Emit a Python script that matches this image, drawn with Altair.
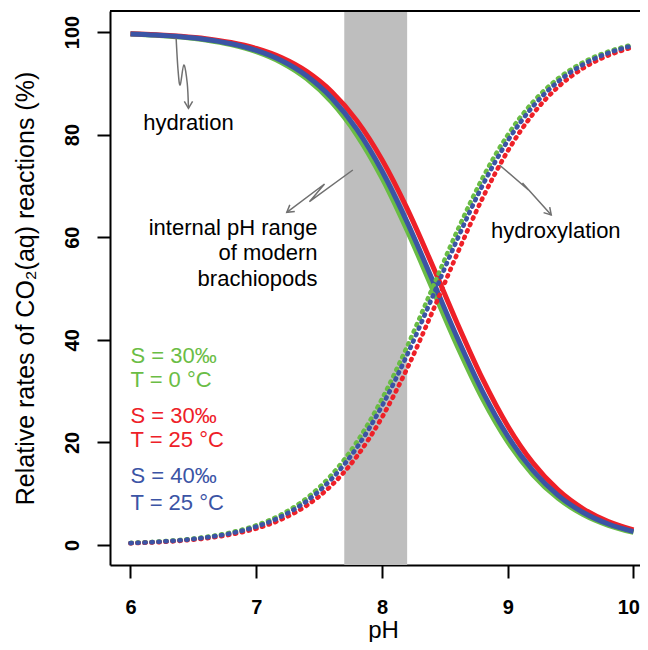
import altair as alt
import pandas as pd

# ---------------- data ----------------
ph = [6.0, 6.2, 6.4, 6.6, 6.8, 7.0, 7.2, 7.4, 7.6, 7.8, 8.0,
      8.2, 8.4, 8.6, 8.8, 9.0, 9.2, 9.4, 9.6, 9.8, 10.0]

series = ["S = 30‰, T = 0 °C", "S = 30‰, T = 25 °C", "S = 40‰, T = 25 °C"]
series_colors = ["#6ABD45", "#EE2028", "#3B54A5"]

hydration_green = [99.60, 99.37, 99.01, 98.44, 97.55, 96.17, 94.06, 90.91, 86.32, 79.92, 71.53,
                   61.31, 50.00, 38.69, 28.47, 20.08, 13.68, 9.09, 5.93, 3.83, 2.45]
hydration_red = [99.67, 99.48, 99.17, 98.70, 97.95, 96.79, 95.01, 92.32, 88.35, 82.72, 75.12,
                 65.58, 54.59, 43.14, 32.37, 23.20, 16.00, 10.73, 7.05, 4.57, 2.93]
hydration_blue = [99.63, 99.41, 99.07, 98.54, 97.71, 96.42, 94.44, 91.46, 87.12, 81.01, 72.91,
                  62.94, 51.73, 40.34, 29.90, 21.21, 14.52, 9.68, 6.33, 4.09, 2.62]

hydroxylation_green = [0.40, 0.63, 0.99, 1.56, 2.45, 3.83, 5.94, 9.09, 13.68, 20.08, 28.47,
                       38.69, 50.00, 61.31, 71.53, 79.92, 86.32, 90.91, 94.07, 96.17, 97.55]
hydroxylation_red = [0.33, 0.52, 0.83, 1.30, 2.05, 3.21, 4.99, 7.68, 11.65, 17.28, 24.88,
                     34.42, 45.41, 56.86, 67.63, 76.80, 84.00, 89.27, 92.95, 95.43, 97.07]
hydroxylation_blue = [0.37, 0.59, 0.93, 1.46, 2.29, 3.58, 5.56, 8.54, 12.88, 18.99, 27.09,
                      37.06, 48.27, 59.66, 70.10, 78.79, 85.48, 90.32, 93.67, 95.91, 97.38]

band_ph = [7.7, 8.2]   # internal pH range of modern brachiopods

x_ticks = [6, 7, 8, 9, 10]
y_ticks = [0, 20, 40, 60, 80, 100]

# text annotations (pH, %, text, colour)
legend_text = ["S = 30‰", "T = 0 °C", "S = 30‰", "T = 25 °C", "S = 40‰", "T = 25 °C"]
legend_y = [35.5, 30.8, 23.8, 19.1, 12.1, 6.9]
legend_col = ["#6ABD45", "#6ABD45", "#EE2028", "#EE2028", "#3B54A5", "#3B54A5"]

internal_text = ["internal pH range", "of modern", "brachiopods"]
internal_y = [60.4, 55.5, 50.5]

center_text = ["hydration", "hydroxylation"]
center_x = [6.461, 9.382]
center_y = [80.9, 59.9]

# annotation arrows (pH, %)
arrow_hyd_x = [6.363, 6.378, 6.395, 6.424, 6.451, 6.461]
arrow_hyd_y = [98.77, 92.59, 89.67, 93.57, 90.06, 85.13]
arrow_int_x = [7.768, 7.423, 7.543, 7.243]
arrow_int_y = [73.10, 66.92, 70.37, 64.85]
arrow_oh_x = [8.934, 9.165, 9.117, 9.346]
arrow_oh_y = [74.07, 69.20, 70.57, 64.33]
head_x = [6.461, 7.243, 9.346]
head_y = [85.13, 64.85, 64.33]
head_angle = [0, 53, 318]

# ---------------- tables ----------------
rows = []
for s, hyd, oh in zip(series,
                      [hydration_green, hydration_red, hydration_blue],
                      [hydroxylation_green, hydroxylation_red, hydroxylation_blue]):
    for i, p in enumerate(ph):
        rows.append({"pH": p, "rate": hyd[i], "series": s, "reaction": "hydration", "i": i})
    for i, p in enumerate(ph):
        rows.append({"pH": p, "rate": oh[i], "series": s, "reaction": "hydroxylation", "i": i})
curves = pd.DataFrame(rows)

band = pd.DataFrame({"pH": [band_ph[0]], "pH2": [band_ph[1]]})
legend_df = pd.DataFrame({"pH": [6.0] * len(legend_text), "rate": legend_y,
                          "text": legend_text, "col": legend_col})
internal_df = pd.DataFrame({"pH": [7.487] * 3, "rate": internal_y, "text": internal_text})
center_df = pd.DataFrame({"pH": center_x, "rate": center_y, "text": center_text})
arrow_curvy = pd.DataFrame({"pH": arrow_hyd_x, "rate": arrow_hyd_y, "i": list(range(len(arrow_hyd_x)))})
arr_rows = []
for name, xs_, ys_ in [("int", arrow_int_x, arrow_int_y), ("oh", arrow_oh_x, arrow_oh_y)]:
    for i, (a, b) in enumerate(zip(xs_, ys_)):
        arr_rows.append({"arrow": name, "pH": a, "rate": b, "i": i})
arrow_straight = pd.DataFrame(arr_rows)
heads = pd.DataFrame({"pH": head_x, "rate": head_y, "ang": head_angle})

# ---------------- scales / axes ----------------
W, H = 530, 554
FONT = "Liberation Sans"
xs = alt.Scale(domain=[5.837, 5.837 + W / 125.75], nice=False, zero=False)
ys = alt.Scale(domain=[-3.90, 104.09], nice=False, zero=False)

xaxis = alt.Axis(values=x_ticks, title="pH", format="d", grid=False,
                 tickSize=13, tickWidth=2, tickColor="black",
                 domainWidth=2, domainColor="black",
                 labelFont=FONT, labelFontSize=20, labelFontWeight="bold",
                 labelColor="black", labelPadding=19, labelFlush=False,
                 labelAlign={"condition": {"test": "datum.value == 10", "value": "right"},
                             "value": "center"},
                 labelOffset={"condition": {"test": "datum.value == 10", "value": 6},
                              "value": 0},
                 titleFont=FONT, titleFontSize=24, titleFontWeight="normal",
                 titleColor="black", titleBaseline="alphabetic",
                 titleX=273, titleY=72, titleAlign="center")
yaxis = alt.Axis(values=y_ticks, title="Relative rates of CO₂(aq) reactions (%)",
                 format="d", grid=False,
                 tickSize=13, tickWidth=2, tickColor="black",
                 domainWidth=2, domainColor="black",
                 labelFont=FONT, labelFontSize=20, labelFontWeight="bold",
                 labelColor="black", labelAngle=270, labelAlign="center",
                 labelBaseline="alphabetic", labelPadding=19, labelFlush=False,
                 titleFont=FONT, titleFontSize=25, titleFontWeight="normal",
                 titleColor="black", titleAngle=270, titleAlign="center",
                 titleBaseline="alphabetic", titleX=-77, titleY=277)


def X(f="pH"):
    return alt.X(f, type="quantitative", scale=xs, axis=xaxis)


def Y(f="rate"):
    return alt.Y(f, type="quantitative", scale=ys, axis=yaxis)


color = alt.Color("series:N", scale=alt.Scale(domain=series, range=series_colors), legend=None)

band_layer = alt.Chart(band).mark_rect(color="#BEBEBE").encode(
    x=X("pH"), x2="pH2", y=alt.value(0), y2=alt.value(H))

solid = alt.Chart(curves).transform_filter(alt.datum.reaction == "hydration").mark_line(
    strokeWidth=5, interpolate="monotone", strokeCap="butt").encode(
    x=X(), y=Y(), color=color, order="i:Q")

dotted = alt.Chart(curves).transform_filter(alt.datum.reaction == "hydroxylation").mark_line(
    strokeWidth=4.6, interpolate="monotone", strokeCap="round", strokeDash=[1.2, 5.8]).encode(
    x=X(), y=Y(), color=color, order="i:Q")

top_rule = alt.Chart(band).mark_rule(color="black", strokeWidth=2).encode(
    x=alt.value(0), x2=alt.value(W), y=alt.value(0))

txt_kw = dict(font=FONT, fontSize=22, baseline="alphabetic")
legend_layer = alt.Chart(legend_df).mark_text(align="left", **txt_kw).encode(
    x=X(), y=Y(), text="text:N", color=alt.Color("col:N", scale=None))
internal_layer = alt.Chart(internal_df).mark_text(align="right", color="black", **txt_kw).encode(
    x=X(), y=Y(), text="text:N")
center_layer = alt.Chart(center_df).mark_text(align="center", color="black", **txt_kw).encode(
    x=X(), y=Y(), text="text:N")

arrow_c = alt.Chart(arrow_curvy).mark_line(color="#707070", strokeWidth=1.5,
                                           interpolate="cardinal").encode(
    x=X(), y=Y(), order="i:Q")
arrow_s = alt.Chart(arrow_straight).mark_line(color="#707070", strokeWidth=1.5).encode(
    x=X(), y=Y(), detail="arrow:N", order="i:Q")
head_layer = alt.Chart(heads).mark_point(shape="M-0.6,-1L0,0L0.6,-1", filled=False, size=190,
                                         strokeWidth=1.5, color="#707070", opacity=1).encode(
    x=X(), y=Y(), angle=alt.Angle("ang:Q", scale=None))

chart = alt.layer(
    band_layer, solid, dotted, arrow_c, arrow_s, head_layer,
    legend_layer, internal_layer, center_layer, top_rule
).properties(
    width=W, height=H,
    autosize=alt.AutoSizeParams(type="none"),
    padding={"left": 102, "top": 3, "right": 0, "bottom": 77},
).configure(background="white").configure_view(stroke="transparent", strokeWidth=0)

chart.save("out.html", embed_options={"renderer": "svg", "actions": False})
